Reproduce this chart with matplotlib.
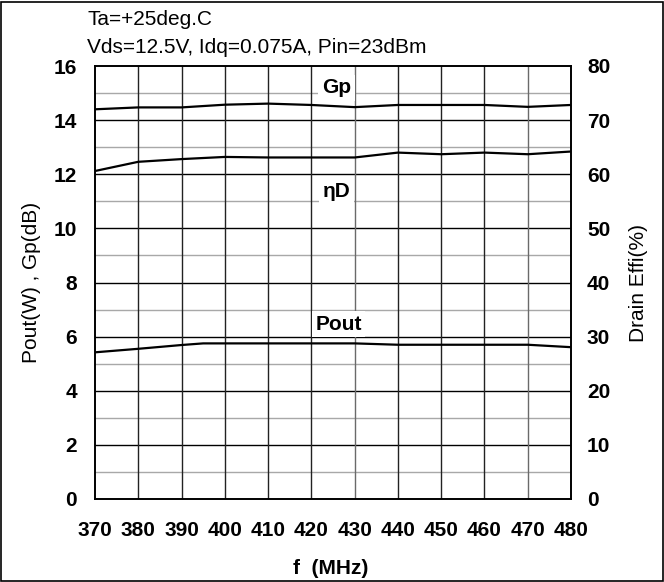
import matplotlib.pyplot as plt
from matplotlib.patches import Rectangle

plt.rcParams['font.family'] = ['Liberation Sans', 'DejaVu Sans']

# data
freq = [370, 380, 390, 400, 410, 420, 430, 440, 450, 460, 470, 480]
gp = [14.40, 14.47, 14.47, 14.57, 14.61, 14.56, 14.48, 14.56, 14.56, 14.56, 14.49, 14.56]
eff = [60.6, 62.3, 62.8, 63.2, 63.1, 63.1, 63.1, 64.0, 63.7, 64.0, 63.7, 64.2]
pout_f = [370, 380, 390, 395, 400, 410, 420, 430, 440, 450, 460, 470, 480]
pout = [5.42, 5.55, 5.69, 5.75, 5.75, 5.75, 5.75, 5.75, 5.70, 5.70, 5.70, 5.70, 5.61]

xticks = list(range(370, 481, 10))
lticks = list(range(0, 17, 2))
rticks = list(range(0, 81, 10))

W, H = 664, 582
fig = plt.figure(figsize=(W / 100, H / 100), dpi=100)
ax = fig.add_axes([95 / W, 1 - 499 / H, 476 / W, 433 / H])
ax2 = ax.twinx()

# grid
for v in range(1, 16, 2):
    ax.axhline(v, color='#a8a8a8', lw=1.0, zorder=1)
for v in range(2, 16, 2):
    ax.axhline(v, color='black', lw=1.0, zorder=1)
for f in xticks[1:-1]:
    c = '#6a6a6a' if f in (430, 470) else '#222222'
    ax.axvline(f, color=c, lw=1.0, zorder=1)

ax.plot(freq, gp, color='black', lw=1.6, zorder=3)
ax.plot(freq, [e / 5 for e in eff], color='black', lw=1.6, zorder=3)
ax.plot(pout_f, pout, color='black', lw=1.6, zorder=3)

box = dict(facecolor='white', edgecolor='none', pad=2.5)
ax.text(425.8, 15.2, 'Gp', ha='center', va='center', fontsize=15, fontweight='bold', bbox=box, zorder=4)
ax.text(425.8, 11.35, 'ηD', ha='center', va='center', fontsize=15, fontweight='bold', bbox=box, zorder=4)
ax.text(426.3, 6.45, 'Pout', ha='center', va='center', fontsize=15, fontweight='bold', bbox=box, zorder=4)

ax.set_xlim(370, 480)
ax.set_ylim(0, 16)
ax2.set_ylim(0, 80)
ax.set_xticks(xticks)
ax.set_yticks(lticks)
ax2.set_yticks(rticks)
ax.tick_params(axis='y', length=0, labelsize=15, pad=13)
ax.tick_params(axis='x', length=0, labelsize=15, pad=16)
ax2.tick_params(length=0, labelsize=15, pad=11.5)
for lab in ax.get_xticklabels() + ax.get_yticklabels() + ax2.get_yticklabels():
    lab.set_fontweight('bold')

for a in (ax, ax2):
    for s in a.spines.values():
        s.set_linewidth(1.2)

ax.set_xlabel('f  (MHz)', fontsize=15, fontweight='bold')
ax.xaxis.set_label_coords((331 - 95) / 476, (499 - 569) / 433)
ax.xaxis.label.set_verticalalignment('center')
ax.set_ylabel('Pout(W) , Gp(dB)', fontsize=15)
ax.yaxis.set_label_coords((32 - 95) / 476, 0.5)
ax.yaxis.label.set_verticalalignment('center')
ax2.set_ylabel('Drain Effi(%)', fontsize=15)
ax2.yaxis.set_label_coords((638 - 95) / 476, 0.5)
ax2.yaxis.label.set_verticalalignment('center')

fig.text(87 / W, 1 - 25 / H, 'Ta=+25deg.C', fontsize=15, va='baseline')
fig.text(87 / W, 1 - 53 / H, 'Vds=12.5V, Idq=0.075A, Pin=23dBm', fontsize=15, va='baseline')

fig.patches.append(Rectangle((0.002, 0.002), 0.996, 0.995, transform=fig.transFigure,
                             fill=False, edgecolor='black', lw=1.2))

fig.savefig('out.png', dpi=100)
